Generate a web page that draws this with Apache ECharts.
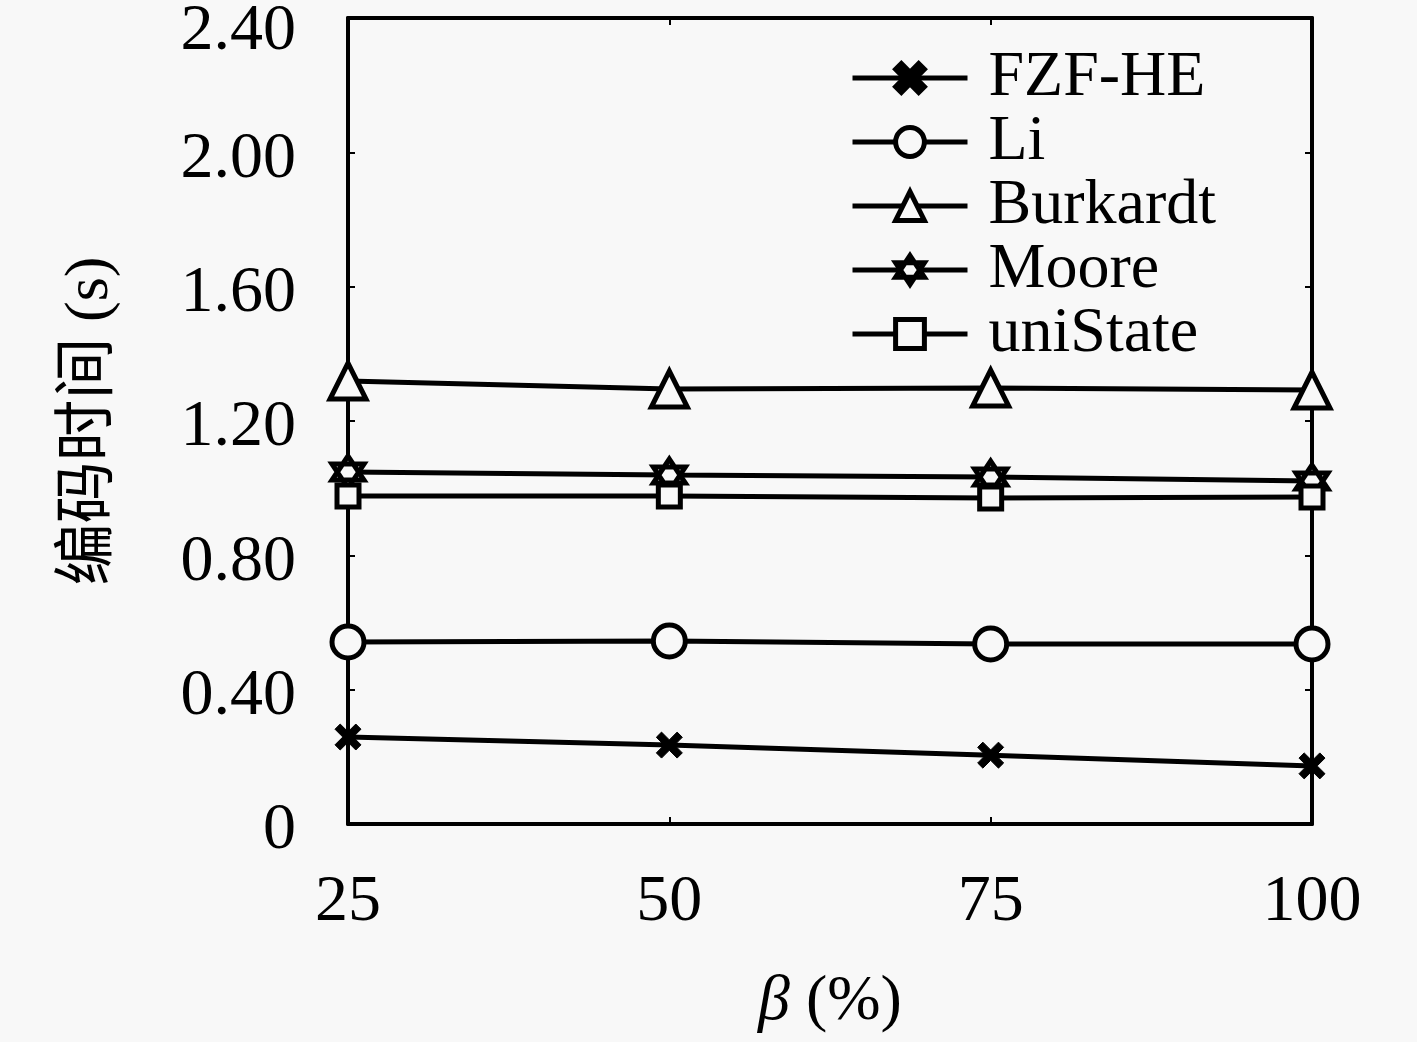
<!DOCTYPE html>
<html lang="zh">
<head>
    <meta charset="UTF-8"/>
    <title>编码时间</title>
    <script src="https://cdn.jsdelivr.net/npm/echarts@6/dist/echarts.min.js"></script>
    <style>
        html, body { margin: 0; padding: 0; background: #f8f8f8; }
    </style>
</head>
<body>
<div id="main" style="width: 1417px; height: 1042px;"></div>
<script type="text/javascript">
    // x: beta (%)
    var betaValues = [25, 50, 75, 100];
    var yTicks = [0, 0.40, 0.80, 1.20, 1.60, 2.00, 2.40];

    var fzfHe = [0.259, 0.235, 0.205, 0.173];
    var li = [0.542, 0.545, 0.536, 0.536];
    var burkardt = [1.319, 1.295, 1.298, 1.292];
    var moore = [1.048, 1.039, 1.033, 1.021];
    var uniState = [0.977, 0.977, 0.971, 0.974];

    var seriesNames = ['FZF-HE', 'Li', 'Burkardt', 'Moore', 'uniState'];
    var seriesData = [fzfHe, li, burkardt, moore, uniState];

    var font = '"Liberation Serif", "Noto Sans CJK SC", serif';
    var bg = '#f8f8f8';

    var symbols = [
        {symbol: 'path://M2,0 L5,3 L8,0 L10,2 L7,5 L10,8 L8,10 L5,7 L2,10 L0,8 L3,5 L0,2 Z', size: 26, fill: '#000', bw: 1},
        {symbol: 'circle', size: 32, fill: bg, bw: 5},
        {symbol: 'triangle', size: 36, fill: bg, bw: 5},
        {symbol: 'path://M5,0 L9.33,7.5 L0.67,7.5 Z M5,10 L0.67,2.5 L9.33,2.5 Z', size: 32, fill: bg, bw: 5},
        {symbol: 'rect', size: 22, fill: bg, bw: 5}
    ];

    function pair(arr) {
        return arr.map(function (v, i) { return [betaValues[i], v]; });
    }

    var series = seriesNames.map(function (name, k) {
        var s = symbols[k];
        return {
            name: name,
            type: 'line',
            data: pair(seriesData[k]),
            symbol: s.symbol,
            symbolSize: s.size,
            showAllSymbol: true,
            lineStyle: {color: '#000', width: 5},
            itemStyle: {color: s.fill, borderColor: '#000', borderWidth: s.bw},
            emphasis: {disabled: true},
            z: 5 + k
        };
    });

    // one legend per series so rows can sit closer than the text height
    var legends = seriesNames.map(function (name, k) {
        return {
            orient: 'vertical',
            left: 845,
            top: 41 + 64 * k,
            itemWidth: 115,
            itemHeight: 36,
            data: [name],
            lineStyle: {width: 5, color: '#000'},
            itemStyle: {borderWidth: 5},
            textStyle: {fontFamily: font, fontSize: 64, color: '#000', padding: [0, 0, 0, 16]}
        };
    });

    var boxAxisLine = {show: true, onZero: false, lineStyle: {color: '#000', width: 4}};
    var boxTick = {inside: true, length: 7, lineStyle: {color: '#000', width: 2}};

    var myChart = echarts.init(document.getElementById('main'));

    var option = {
        backgroundColor: bg,
        animation: false,
        textStyle: {fontFamily: font, color: '#000'},
        grid: {left: 348, right: 105, top: 18, bottom: 218, outerBoundsMode: 'none', containLabel: false},
        legend: legends,
        xAxis: [{
            type: 'value',
            min: 25,
            max: 100,
            interval: 25,
            name: '{i|β} (%)',
            nameLocation: 'middle',
            nameGap: 146,
            nameTextStyle: {
                fontFamily: font, fontSize: 64, color: '#000',
                rich: {i: {fontFamily: font, fontSize: 64, fontStyle: 'italic', color: '#000'}}
            },
            axisLine: boxAxisLine,
            axisTick: boxTick,
            axisLabel: {fontFamily: font, fontSize: 66, color: '#000', margin: 46},
            splitLine: {show: false}
        }, {
            type: 'value',
            position: 'top',
            min: 25,
            max: 100,
            interval: 25,
            axisLine: boxAxisLine,
            axisTick: boxTick,
            axisLabel: {show: false},
            splitLine: {show: false}
        }],
        yAxis: [{
            type: 'value',
            min: 0,
            max: 2.4,
            interval: 0.4,
            name: '编码时间 (s)',
            nameLocation: 'middle',
            nameGap: 226,
            nameTextStyle: {fontFamily: font, fontSize: 62, color: '#000'},
            axisLine: boxAxisLine,
            axisTick: boxTick,
            axisLabel: {
                fontFamily: font, fontSize: 66, color: '#000', margin: 52,
                padding: [14, 0, 0, 0],
                formatter: function (v) {
                    if (v === 0) return '0';
                    if (v >= 2.4) return '{t|' + v.toFixed(2) + '}';
                    return v.toFixed(2);
                },
                rich: {t: {fontFamily: font, fontSize: 66, color: '#000', padding: [14, 0, 0, 0]}}
            },
            splitLine: {show: false}
        }, {
            type: 'value',
            position: 'right',
            min: 0,
            max: 2.4,
            interval: 0.4,
            axisLine: boxAxisLine,
            axisTick: boxTick,
            axisLabel: {show: false},
            splitLine: {show: false}
        }],
        series: series
    };

    myChart.setOption(option);
</script>
</body>
</html>
